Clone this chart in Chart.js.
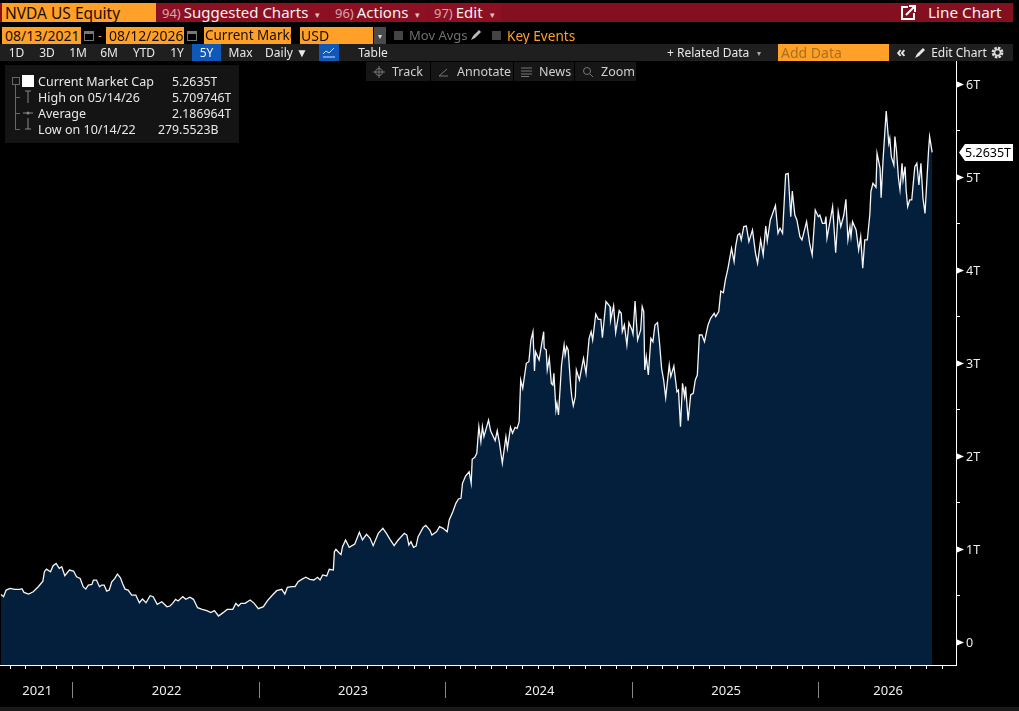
<!DOCTYPE html>
<html>
<head>
<meta charset="utf-8">
<title>NVDA US Equity</title>
<script src="https://cdn.jsdelivr.net/npm/chart.js@4/dist/chart.umd.min.js"></script>
<style>
  html, body { margin: 0; padding: 0; background: #000; overflow: hidden; }
  body { width: 1019px; height: 711px; position: relative; font-family: "Noto Sans", sans-serif; color: #e8e8e8; }
  canvas { position: absolute; left: 0; top: 0; }
  .box, .t { position: absolute; white-space: nowrap; overflow: hidden; }
  .t { font-size: 12px; line-height: 17px; height: 17px; }
  .inp { background: #ffa028; color: #1a0f00; font-size: 14px; line-height: 17px; height: 17px; padding-left: 3px; box-sizing: border-box; }
  .red { background: #8c1022; color: #f2f2f2; font-size: 15px; line-height: 19px; height: 19px; top: 3px; }
  .red b { font-weight: 400; color: #d9a5ac; font-size: 13px; margin: 0 3px 0 5px; }
  .red i { font-style: normal; font-size: 9px; margin-left: 7px; color: #e0c0c5; }
  .bar { text-align: center; top: 44px; }
  .tool { top: 62px; height: 19px; line-height: 19px; background: #161616; }
  .lab { top: 62px; height: 19px; line-height: 19px; font-size: 12.5px; color: #cfcfcf; }
  .leg { left: 38px; font-size: 12.5px; }
  .val { font-size: 12.3px; }
  .arb { position: absolute; background: #666; }
</style>
</head>
<body>
<canvas id="grafico" width="1019" height="711"></canvas>

<!-- fila 1 -->
<div class="box" style="left:0;top:3px;width:1013px;height:19px;background:#84101f"></div>
<div class="box inp" style="left:2px;top:3px;width:154px;height:19px;font-size:15.5px;line-height:21px">NVDA US Equity</div>
<div class="box red" style="left:157px;width:172px"><b>94)</b>Suggested Charts<i>▾</i></div>
<div class="box red" style="left:330px;width:98px"><b>96)</b>Actions<i>▾</i></div>
<div class="box red" style="left:429px;width:72px"><b>97)</b>Edit<i>▾</i></div>
<svg class="box" style="left:900px;top:4px" width="17" height="17" viewBox="0 0 17 17"><path d="M8 3H2v12h12V9" fill="none" stroke="#fff" stroke-width="2"/><path d="M6 11l8-8M9 2h6v6" fill="none" stroke="#fff" stroke-width="2"/></svg>
<div class="t" style="left:928px;top:3px;height:19px;line-height:19px;font-size:15.3px;color:#f2f2f2">Line Chart</div>

<!-- fila 2 -->
<div class="box inp" style="left:2px;top:27px;width:79px">08/13/2021</div>
<svg class="box" style="left:84px;top:30px" width="10" height="11" viewBox="0 0 10 11"><rect x=".5" y="1.5" width="9" height="9" fill="none" stroke="#777"/><rect x="1" y="1" width="8" height="3" fill="#777"/></svg>
<div class="t" style="left:98px;top:27px;color:#ffa028">-</div>
<div class="box inp" style="left:106px;top:27px;width:78px">08/12/2026</div>
<svg class="box" style="left:187px;top:30px" width="10" height="11" viewBox="0 0 10 11"><rect x=".5" y="1.5" width="9" height="9" fill="none" stroke="#777"/><rect x="1" y="1" width="8" height="3" fill="#777"/></svg>
<div class="box inp" style="left:204px;top:27px;width:87px;font-size:13.5px;padding-left:1px">Current Market Cap</div>
<div class="box inp" style="left:300px;top:27px;width:73px;padding-left:1px">USD</div>
<div class="box" style="left:374px;top:27px;width:12px;height:17px;background:#4a4a4a;color:#ddd;font-size:8px;line-height:17px;text-align:center">▾</div>
<div class="box" style="left:394px;top:31px;width:9px;height:9px;background:#444"></div>
<div class="t" style="left:409px;top:27px;font-size:13px;color:#6f6f6f">Mov Avgs</div>
<svg class="box" style="left:470px;top:29px" width="12" height="12" viewBox="0 0 12 12"><path d="M1 11l2-4 6-6 2 2-6 6z" fill="#bbb"/></svg>
<div class="box" style="left:492px;top:31px;width:9px;height:9px;background:#444"></div>
<div class="t" style="left:507px;top:27px;font-size:13.6px;color:#ffa028">Key Events</div>

<!-- fila 3 -->
<div class="box" style="left:0;top:44px;width:1013px;height:17px;background:#1f1f1f"></div>
<div class="t bar" style="left:3px;width:27px">1D</div>
<div class="t bar" style="left:33px;width:28px">3D</div>
<div class="t bar" style="left:64px;width:28px">1M</div>
<div class="t bar" style="left:95px;width:28px">6M</div>
<div class="t bar" style="left:126px;width:36px">YTD</div>
<div class="t bar" style="left:165px;width:24px">1Y</div>
<div class="t bar" style="left:192px;width:29px;background:#0f58b8;color:#f5f5f5">5Y</div>
<div class="t bar" style="left:224px;width:33px">Max</div>
<div class="t bar" style="left:260px;width:53px">Daily ▼</div>
<div class="box" style="left:319px;top:44px;width:20px;height:17px;background:#0f58b8"></div>
<svg class="box" style="left:322px;top:47px" width="14" height="11" viewBox="0 0 14 11"><path d="M1 7l3-3 3 2 5-5M1 10h12" fill="none" stroke="#cfe0f5" stroke-width="1"/></svg>
<div class="t bar" style="left:358px;width:30px">Table</div>
<div class="t" style="left:667px;top:44px">+ Related Data</div>
<div class="t" style="left:757px;top:44px;font-size:8px;color:#aaa">▾</div>
<div class="box inp" style="left:778px;top:44px;width:111px;color:#a8701f">Add Data</div>
<div class="t bar" style="left:893px;width:16px;font-size:15px;font-weight:700;line-height:15px">«</div>
<svg class="box" style="left:914px;top:47px" width="12" height="12" viewBox="0 0 12 12"><path d="M1 11l2-4 6-6 2 2-6 6z" fill="#e8e8e8"/></svg>
<div class="t bar" style="left:929px;width:60px">Edit Chart</div>
<svg class="box" style="left:991px;top:46px" width="13" height="13" viewBox="0 0 13 13"><circle cx="6.5" cy="6.5" r="4.6" fill="none" stroke="#ddd" stroke-width="2.6" stroke-dasharray="2.4 1.2"/><circle cx="6.5" cy="6.5" r="3" fill="none" stroke="#ddd" stroke-width="1.6"/></svg>

<!-- fila 4 -->
<div class="box tool" style="left:366px;width:64px"></div>
<div class="box tool" style="left:431px;width:82px"></div>
<div class="box tool" style="left:514px;width:60px"></div>
<div class="box tool" style="left:575px;width:61px"></div>
<svg class="box" style="left:372px;top:65px" width="14" height="14" viewBox="0 0 14 14"><circle cx="7" cy="7" r="3.5" fill="none" stroke="#777"/><path d="M7 1v12M1 7h12" stroke="#777"/></svg>
<svg class="box" style="left:438px;top:67px" width="11" height="10" viewBox="0 0 11 10"><path d="M1 9L9 2M1 9h9" stroke="#777" fill="none"/></svg>
<svg class="box" style="left:521px;top:67px" width="11" height="10" viewBox="0 0 11 10"><path d="M0 1h11M0 4h11M0 7h11M0 9.500h8" stroke="#777" fill="none"/></svg>
<svg class="box" style="left:582px;top:66px" width="12" height="12" viewBox="0 0 12 12"><circle cx="5" cy="5" r="3.500" fill="none" stroke="#777"/><path d="M8 8l3 3" stroke="#777"/></svg>
<div class="t lab" style="left:392px">Track</div>
<div class="t lab" style="left:457px">Annotate</div>
<div class="t lab" style="left:539px">News</div>
<div class="t lab" style="left:601px">Zoom</div>

<!-- leyenda -->
<div class="box" style="left:5px;top:65px;width:234px;height:78px;background:#141414"></div>
<div class="box" style="left:12px;top:77px;width:6px;height:6px;border:1px solid #666"></div>
<div class="arb" style="left:15px;top:85px;width:1px;height:45px"></div>
<div class="arb" style="left:15px;top:97px;width:5px;height:1px"></div>
<div class="arb" style="left:15px;top:113px;width:5px;height:1px"></div>
<div class="arb" style="left:15px;top:129px;width:5px;height:1px"></div>
<div class="box" style="left:22px;top:75px;width:12px;height:12px;background:#fff"></div>
<div class="t leg" style="top:73px">Current Market Cap</div><div class="t val" style="left:172px;top:73px">5.2635T</div>
<div class="t leg" style="top:89px">High on 05/14/26</div><div class="t val" style="left:172px;top:89px">5.709746T</div>
<div class="t leg" style="top:105px">Average</div><div class="t val" style="left:172px;top:105px">2.186964T</div>
<div class="t leg" style="top:121px">Low on 10/14/22</div><div class="t val" style="left:158px;top:121px">279.5523B</div>
<svg class="box" style="left:22px;top:90px" width="12" height="46" viewBox="0 0 12 46"><path d="M3 1h6M6 1v12M1 23h10M3 39h6M6 28v11" stroke="#888" fill="none"/><circle cx="6" cy="23" r="1.500" fill="#888"/></svg>

<div class="box" style="left:0;top:707px;width:1019px;height:4px;background:#1a1a1a"></div>

<script>
// Capitalización de mercado (dias desde 08/13/2021, billones USD)
const fechaInicio = Date.UTC(2021, 7, 13);

const dias = [
  1,6,11,19,28,38,42,46,55,64,74,83,86,90,98,103,109,115,120,126,135,143,149,156,162,167,172,179,182,188,194,198,203,208,213,218,224,229,235,239,244,250,257,265,272,278,285,293,299,307,316,326,
  332,337,343,348,357,363,371,378,386,395,404,412,419,427,436,444,455,461,466,471,479,489,497,505,515,523,531,541,551,557,562,570,577,583,590,598,606,614,621,626,631,639,644,652,654,657,664,
  667,670,676,683,694,703,709,717,724,730,740,749,756,763,771,779,791,796,800,804,809,814,818,828,833,841,845,854,860,867,875,879,886,892,897,902,905,911,918,922,924,929,933,937,941,944,947,956,960,969,973,977,983,990,993,999,1003,1008,1012,1016,
  1019,1023,1030,1035,1039,1043,1046,1048,1055,1064,1065,1069,1071,1075,1079,1082,1084,1088,1090,1093,1099,1104,1106,1109,1112,1117,1119,1122,1126,1128,1134,1142,1147,1153,1157,1160,1166,1171,1176,1179,1186,1190,1194,1195,1201,1205,1212,1216,1218,1222,1227,1231,1237,1239,1243,1248,1254,1257,1260,1262,1265,1269,1274,1278,1282,1287,1291,1295,1299,1303,1310,1313,1319,1325,1328,1332,1336,1340,1342,1347,1352,1357,1361,1365,1369,1374,1379,
  1386,1391,1398,1401,1407,1411,1416,1420,1425,1432,1437,1440,1444,1448,1451,1456,1461,1466,1473,1479,1483,1489,1494,1499,1502,1508,1512,1518,1523,1527,1532,1538,1543,1548,1551,1556,1560,1566,1570,1579,1585,1590,1596,1602,
  1605,1610,1615,1617,1619,1630,1636,1641,1646,1652,1656,1660,1664,1666,1669,1676,1681,1685,1689,1693,1698,1703,1705,1709,1715,1717,1723,1725,1729,1735,1740,1742,1745,1750,1752,1755,1759,1762,1766,1768,1772,1774,1777,1781,1785,1791,1795,1799,1803,1807,1811,1818,1820,1825
];

const marketCap = [
  .512,.487,.559,.577,.566,.566,.573,.534,.516,.541,.595,.655,.756,.784,.756,.820,.845,.792,.810,.713,.774,.763,.702,.684,.595,.569,.612,.620,.666,.666,.595,.612,.612,.548,.559,.648,.684,.731,.691,.630,.569,.559,.505,.505,.422,.462,.422,.498,.487,.405,.433,.379,
  .387,.416,.459,.441,.488,.459,.481,.459,.369,.351,.337,.316,.337,.280,.316,.351,.351,.416,.387,.416,.416,.452,.416,.359,.380,.445,.495,.552,.567,.516,.588,.595,.595,.649,.674,.696,.674,.667,.696,.667,.721,.710,.782,.774,.971,.997,.954,
  .94,1.025,1.097,1.018,1.054,1.179,1.097,1.158,1.115,1.036,1.168,1.222,1.168,1.104,1.036,1.097,1.168,1.150,1.043,1.079,1.018,1.032,1.133,1.233,1.254,1.204,1.150,1.186,1.240,1.222,1.186,1.312,1.401,1.491,1.538,1.545,1.706,1.785,1.831,1.706,1.964,1.986,2.029,2.315,2.154,2.315,2.208,2.387,2.272,2.165,2.272,2.154,1.921,2.208,2.082,2.308,2.244,2.308,2.297,2.369,
  2.817,2.728,2.997,3.014,3.247,3.337,2.914,3.122,3.032,3.337,3.158,3.140,2.925,3.050,2.781,2.764,2.889,2.495,2.566,2.441,2.979,3.194,3.086,3.176,3.140,2.746,2.638,2.541,2.638,2.925,2.817,3.050,2.889,3.265,3.337,3.247,3.527,3.470,3.470,3.272,3.660,3.634,3.606,3.455,3.613,3.326,3.563,3.534,3.337,3.409,3.194,3.434,3.355,3.312,3.667,3.247,3.355,3.606,3.552,2.925,3.068,2.871,3.265,3.229,3.409,3.434,3.212,2.943,2.817,2.627,2.979,2.853,2.968,2.692,2.710,2.316,2.781,2.638,2.746,2.380,2.656,2.674,2.817,2.871,3.301,3.301,3.229,
  3.409,3.480,3.534,3.498,3.552,3.774,3.756,3.893,4.018,4.233,4.090,4.251,4.376,4.394,4.323,4.466,4.473,4.305,4.430,4.179,4.072,4.323,4.161,4.473,4.312,4.538,4.599,4.692,4.394,4.448,4.394,5.029,5.039,4.573,4.849,4.591,4.538,4.358,4.323,4.520,4.287,4.161,4.645,4.573,
  4.591,4.502,4.502,4.574,4.341,4.681,4.187,4.627,4.466,4.591,4.760,4.323,4.466,4.359,4.520,4.430,4.215,4.359,4.018,4.323,4.323,4.602,4.842,4.932,4.889,5.255,5.093,4.778,5.201,5.71,5.362,5.416,5.219,5.129,5.434,5.290,4.986,4.860,5.147,4.968,5.111,4.860,4.681,4.753,4.753,5.111,5.147,4.914,5.147,4.771,4.609,5.290,5.434,5.2635
];

const anios = ['2021', '2022', '2023', '2024', '2025', '2026'];
const ticksY = [0, .5, 1, 1.5, 2, 2.5, 3, 3.5, 4, 4.5, 5, 5.5, 6];
const ultimoValor = '5.2635T';

// dias desde el inicio hasta una fecha
const diaDe = (a, m) => (Date.UTC(a, m, 1) - fechaInicio) / 86400000;

// primer dia de cada mes, de sep 2021 a sep 2026
const ticksMes = [];
for (let a = 2021; a <= 2026; a++) {
  for (let m = 0; m < 12; m++) {
    const d = diaDe(a, m);
    if (d > 0 && d < 1860) ticksMes.push(d);
  }
}

// Separadores y etiquetas de años, flechas del eje Y, marca del ultimo valor
const decoraciones = {
  id: 'decoraciones',
  afterDraw(chart) {
    const { ctx, scales: { x, y } } = chart;
    ctx.save();

    // años
    const cortes = anios.slice(1).map(a => x.getPixelForValue(diaDe(+a, 0)));
    const bordes = [x.left, ...cortes, x.right];
    ctx.font = '13px "Noto Sans"';
    ctx.fillStyle = '#eeeeee';
    ctx.textAlign = 'center';
    ctx.textBaseline = 'middle';
    anios.forEach((a, i) => ctx.fillText(a, (bordes[i] + bordes[i + 1]) / 2 + 1, 691));
    ctx.strokeStyle = '#888888';
    cortes.forEach(c => {
      ctx.beginPath();
      ctx.moveTo(Math.round(c) + .5, 682);
      ctx.lineTo(Math.round(c) + .5, 698);
      ctx.stroke();
    });

    // flechas en los valores enteros
    ctx.fillStyle = '#ffffff';
    ticksY.filter(v => Number.isInteger(v)).forEach(v => {
      const py = Math.round(y.getPixelForValue(v)) + .5;
      ctx.beginPath();
      ctx.moveTo(x.right, py - 3.5);
      ctx.lineTo(x.right + 8, py);
      ctx.lineTo(x.right, py + 3.5);
      ctx.closePath();
      ctx.fill();
    });

    // etiqueta del ultimo valor
    const py = y.getPixelForValue(marketCap[marketCap.length - 1]);
    ctx.beginPath();
    ctx.moveTo(x.right + 3, py);
    ctx.lineTo(x.right + 9, py - 8.5);
    ctx.lineTo(x.right + 57, py - 8.5);
    ctx.lineTo(x.right + 57, py + 8.5);
    ctx.lineTo(x.right + 9, py + 8.5);
    ctx.closePath();
    ctx.fill();
    ctx.fillStyle = '#000000';
    ctx.textAlign = 'left';
    ctx.font = '12.5px "Noto Sans"';
    ctx.fillText(ultimoValor, x.right + 9, py + .5);
    ctx.restore();
  },
};

new Chart(document.getElementById('grafico').getContext('2d'), {
  type: 'line',
  data: {
    datasets: [{
      data: dias.map((d, i) => ({ x: d, y: marketCap[i] })),
      borderColor: '#f4f6f8',
      backgroundColor: '#031f3b',
      borderWidth: 1.3,
      tension: 0,
      fill: 'start',
      pointRadius: 0,
    }],
  },
  options: {
    responsive: false,
    animation: false,
    layout: { padding: { top: 61 } },
    plugins: { legend: { display: false }, tooltip: { enabled: false } },
    scales: {
      x: {
        type: 'linear',
        min: -1,
        max: 1871.7,
        afterBuildTicks: axis => { axis.ticks = ticksMes.map(value => ({ value })); },
        afterFit: axis => { axis.height = 46; },
        border: { color: '#ffffff', width: 1 },
        grid: { drawOnChartArea: false, color: '#ffffff', tickLength: 4 },
        ticks: { display: false },
      },
      y: {
        position: 'right',
        min: -0.247,
        max: 6.247,
        afterBuildTicks: axis => { axis.ticks = ticksY.map(value => ({ value })); },
        afterFit: axis => { axis.width = 63; },
        border: { color: '#ffffff', width: 1 },
        grid: { drawOnChartArea: false, color: '#ffffff', tickLength: 4 },
        ticks: {
          autoSkip: false,
          padding: 6,
          labelOffset: 1.5,
          color: '#eeeeee',
          font: { family: '"Noto Sans"', size: 12.5 },
          callback: v => (Number.isInteger(v) ? (v === 0 ? '0' : v + 'T') : ''),
        },
      },
    },
  },
  plugins: [decoraciones],
});
</script>
</body>
</html>
